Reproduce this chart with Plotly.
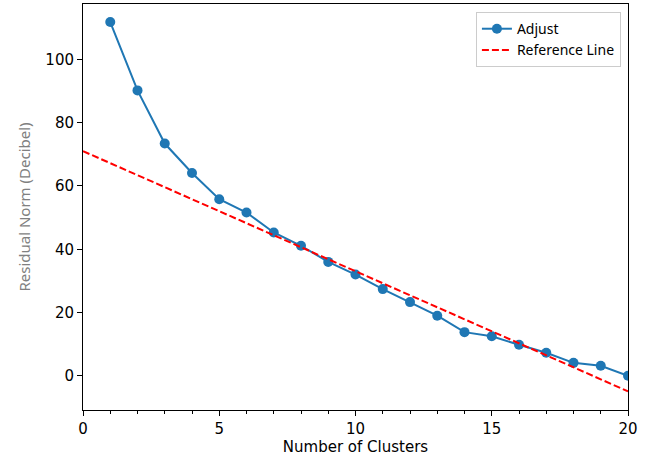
import plotly.graph_objects as go

clusters = list(range(1, 21))
adjust = [111.8, 90.2, 73.4, 64.1, 55.8, 51.6, 45.3, 41.1, 36.0, 32.0,
          27.4, 23.3, 19.0, 13.8, 12.5, 9.8, 7.3, 4.1, 3.2, 0.0]
ref_x = [0, 20]
ref_y = [71.0, -4.9]

fig = go.Figure()
fig.add_trace(go.Scatter(x=clusters, y=adjust, mode="lines+markers", name="Adjust",
                         line=dict(color="#1f77b4", width=2),
                         marker=dict(color="#1f77b4", size=10)))
fig.add_trace(go.Scatter(x=ref_x, y=ref_y, mode="lines", name="Reference Line",
                         line=dict(color="red", width=2, dash="7px,3px")))

fig.update_layout(
    width=651, height=460,
    margin=dict(l=83, r=23, t=4, b=50),
    plot_bgcolor="white", paper_bgcolor="white",
    font=dict(family="DejaVu Sans", size=15, color="black"),
    showlegend=True,
    legend=dict(x=0.987, y=0.98, xanchor="right", yanchor="top",
                bgcolor="rgba(255,255,255,0.8)", bordercolor="#cccccc", borderwidth=1,
                font=dict(family="Noto Sans", size=14, color="black"),
                itemwidth=30, tracegroupgap=0),
    xaxis=dict(range=[0, 20], showgrid=False, zeroline=False,
               showline=True, linecolor="black", linewidth=1, mirror=True,
               ticks="outside", ticklen=5, tickcolor="black",
               tickvals=[0, 5, 10, 15, 20],
               tickfont=dict(family="DejaVu Sans", size=15),
               minor=dict(ticks="outside", ticklen=3, tickcolor="black", dtick=1, showgrid=False),
               title=dict(text="Number of Clusters", standoff=4,
                          font=dict(family="DejaVu Sans", size=15))),
    yaxis=dict(range=[-10.8, 117.5], showgrid=False, zeroline=False,
               showline=True, linecolor="black", linewidth=1, mirror=True,
               ticks="outside", ticklen=5, tickcolor="black",
               tickvals=[0, 20, 40, 60, 80, 100],
               tickfont=dict(family="DejaVu Sans", size=15),
               title=dict(text="Residual Norm (Decibel)", standoff=11,
                          font=dict(family="Noto Sans", size=15, color="gray"))),
)

fig.write_html("out.html")
